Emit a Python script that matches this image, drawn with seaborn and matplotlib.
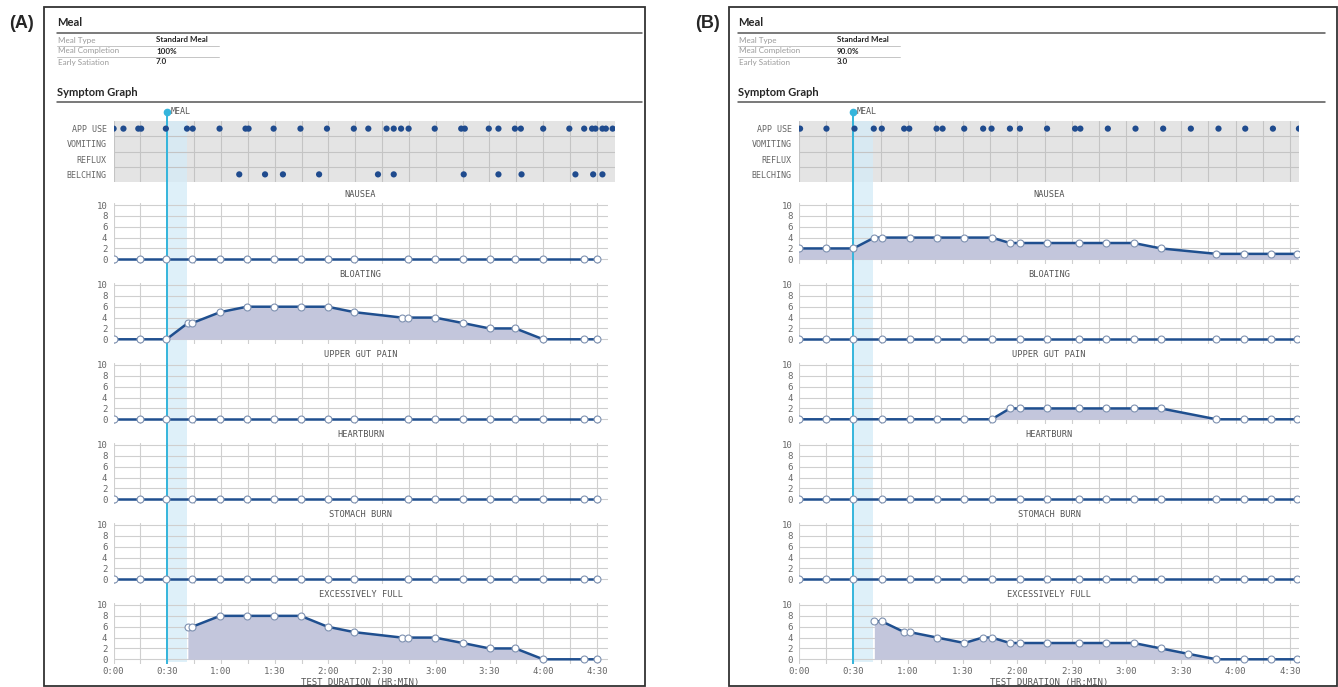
import numpy as np
import pandas as pd
import seaborn as sns
import matplotlib.pyplot as plt
from matplotlib.patches import Rectangle
from matplotlib.lines import Line2D

sns.set_theme(style="white")
MONO = "DejaVu Sans Mono"
HEAD = "Lato"
plt.rcParams['font.family'] = [MONO, 'DejaVu Sans']

W, H = 1338, 687
nan = np.nan

symptoms = ["NAUSEA", "BLOATING", "UPPER GUT PAIN", "HEARTBURN", "STOMACH BURN", "EXCESSIVELY FULL"]
event_rows = ["APP USE", "VOMITING", "REFLUX", "BELCHING"]
tick_minutes = [0, 30, 60, 90, 120, 150, 180, 210, 240, 270]
tick_labels = ["0:00", "0:30", "1:00", "1:30", "2:00", "2:30", "3:00", "3:30", "4:00", "4:30"]
meal_rows = ["Meal Type", "Meal Completion", "Early Satiation"]

# ---- panel A ----
a_meal_info = ["Standard Meal", "100%", "7.0"]
a_meal_time, a_meal_end = 30, 41
a_t = [0, 15, 29.5, 41.5, 44, 59.5, 74.5, 89.5, 104.5, 119.5, 134.5, 161, 164.5, 179.5, 195, 210, 224.5, 240, 263, 270]
a_nausea = [0, 0, 0, nan, 0, 0, 0, 0, 0, 0, 0, nan, 0, 0, 0, 0, 0, 0, 0, 0]
a_bloating = [0, 0, 0, 3, 3, 5, 6, 6, 6, 6, 5, 4, 4, 4, 3, 2, 2, 0, 0, 0]
a_upper_gut = [0, 0, 0, nan, 0, 0, 0, 0, 0, 0, 0, nan, 0, 0, 0, 0, 0, 0, 0, 0]
a_heartburn = [0, 0, 0, nan, 0, 0, 0, 0, 0, 0, 0, nan, 0, 0, 0, 0, 0, 0, 0, 0]
a_stomach = [0, 0, 0, nan, 0, 0, 0, 0, 0, 0, 0, nan, 0, 0, 0, 0, 0, 0, 0, 0]
a_full = [nan, nan, nan, 6, 6, 8, 8, 8, 8, 6, 5, 4, 4, 4, 3, 2, 2, 0, 0, 0]
a_app_use = [0, 5.5, 13.8, 15.4, 29.2, 41, 44.2, 59.2, 73.7, 75.4, 89.4, 104.4, 119.2, 134.2, 142.3,
             152.5, 156.5, 160.6, 164.8, 179.4, 194.2, 196.2, 209.6, 215, 224.2, 227.5, 240, 254.6,
             262.9, 267.3, 269.2, 273.1, 275, 278.8]
a_belching = [70.2, 84.6, 94.6, 114.8, 147.7, 156.5, 195.6, 215, 227.9, 258, 267.9, 273.1]

# ---- panel B ----
b_meal_info = ["Standard Meal", "90.0%", "3.0"]
b_meal_time, b_meal_end = 30, 41
b_t = [0, 15, 30, 41.5, 45.5, 58, 61, 76, 91, 101, 106, 116, 121.5, 136.5, 154, 169, 184, 199, 214,
       229.5, 244.5, 259.5, 274]
b_nausea = [2, 2, 2, 4, 4, nan, 4, 4, 4, nan, 4, 3, 3, 3, 3, 3, 3, 2, nan, 1, 1, 1, 1]
b_bloating = [0, 0, 0, nan, 0, nan, 0, 0, 0, nan, 0, nan, 0, 0, 0, 0, 0, 0, nan, 0, 0, 0, 0]
b_upper_gut = [0, 0, 0, nan, 0, nan, 0, 0, 0, nan, 0, 2, 2, 2, 2, 2, 2, 2, nan, 0, 0, 0, 0]
b_heartburn = [0, 0, 0, nan, 0, nan, 0, 0, 0, nan, 0, nan, 0, 0, 0, 0, 0, 0, nan, 0, 0, 0, 0]
b_stomach = [0, 0, 0, nan, 0, nan, 0, 0, 0, nan, 0, nan, 0, 0, 0, 0, 0, 0, nan, 0, 0, 0, 0]
b_full = [nan, nan, nan, 7, 7, 5, 5, 4, 3, 4, 4, 3, 3, 3, 3, 3, 3, 2, 1, 0, 0, 0, 0]
b_app_use = [0.7, 15.2, 30.6, 41.2, 45.6, 57.9, 60.7, 75.7, 79, 90.9, 101.3, 105.9, 116, 121.5, 136.4,
             151.8, 154.7, 169.8, 185, 200.2, 215.4, 230.6, 245.3, 260.5, 274.8]
b_belching = []

LINE = "#1f4f8f"
FILL = "#c3c6dc"
EDGE = "#7d90b0"
GRID = "#cfcfcf"
DOT = "#1f4b8e"
CYAN = "#35b5dc"
SHADE = "#d4ebf7"
GRAYBG = "#e4e4e4"
TXT = "#666666"


def fx(px):
    return px / W


def fy(px):
    return 1 - px / H


def draw_panel(fig, letter, frame, left, x0, ppm, xmax, xmax_ev, info, meal_t, meal_end,
               times, series, app_use, belching):
    fl, fr = frame
    fig.add_artist(Rectangle((fx(fl), fy(686)), (fr - fl) / W, 679 / H, transform=fig.transFigure,
                             fill=False, ec="#333333", lw=1.3))
    fig.text(fx(fl - 22), fy(24), letter, fontsize=13, fontweight="bold", family="Liberation Sans",
             ha="center", va="center")
    rule_r = fr - 3 if fr < 1300 else 1325
    # header
    fig.text(fx(left), fy(23), "Meal", fontsize=8, fontweight="bold", family=HEAD, va="center")
    fig.add_artist(Line2D([fx(left), fx(rule_r)], [fy(33), fy(33)], color="#555555", lw=1.1))
    for k, (lab, val) in enumerate(zip(meal_rows, info)):
        yy = 40 + 11 * k
        fig.text(fx(left + 1), fy(yy), lab, fontsize=5.8, color="#9a9a9a", family=HEAD, va="center")
        fig.text(fx(left + 99), fy(yy), val, fontsize=5.8, fontweight="bold", family=HEAD, va="center")
        if k < 2:
            fig.add_artist(Line2D([fx(left), fx(left + 162)], [fy(yy + 6), fy(yy + 6)],
                                  color="#bbbbbb", lw=0.6))
    fig.text(fx(left), fy(92), "Symptom Graph", fontsize=8, fontweight="bold", family=HEAD, va="center")
    fig.add_artist(Line2D([fx(left), fx(rule_r)], [fy(102), fy(102)], color="#555555", lw=1.1))

    # overlay: gray event band, meal shade, meal line
    ov = fig.add_axes([fx(x0), fy(662), ppm * xmax_ev / W, 550 / H])
    ov.set_xlim(0, xmax_ev)
    ov.set_ylim(662, 112)
    ov.axis("off")
    ov.set_zorder(0)
    ov.axhspan(182, 121, color=GRAYBG, lw=0, zorder=0)
    ov.fill_betweenx([121, 662], meal_t, meal_end, color=SHADE, alpha=0.75, lw=0, zorder=1)
    ov.plot([meal_t, meal_t], [112, 662], color=CYAN, lw=1.4, zorder=2)
    ov.plot([meal_t], [112], "o", ms=4.5, color=CYAN, clip_on=False, zorder=3)
    ov.text(meal_t + 3 / ppm, 112, "MEAL", fontsize=6, color="#555555", va="center")

    # event rows
    ev = fig.add_axes([fx(x0), fy(182), ppm * xmax_ev / W, 61 / H])
    ev.set_zorder(1)
    ev.set_facecolor("none")
    ev.set_xlim(0, xmax_ev)
    ev.set_ylim(3.5, -0.5)
    ev.set_xticks(np.arange(0, xmax_ev, 15))
    ev.set_xticklabels([])
    ev.set_yticks(range(4))
    ev.set_yticklabels(event_rows)
    ev.set_yticks([0.5, 1.5, 2.5], minor=True)
    ev.grid(True, axis="x", which="major", color="#c4c4c4", lw=0.8)
    ev.grid(True, axis="y", which="minor", color="#c4c4c4", lw=0.8)
    ev.set_axisbelow(True)
    ev.axvline(meal_t, color=CYAN, lw=1.4, zorder=1.5)
    ev.tick_params(axis="both", which="both", length=0)
    ev.tick_params(axis="y", pad=5, labelsize=6, labelcolor=TXT)
    for s in ev.spines.values():
        s.set_visible(False)
    ev_df = pd.DataFrame({"t": list(app_use) + list(belching),
                          "row": [0] * len(app_use) + [3] * len(belching)})
    sns.scatterplot(data=ev_df, x="t", y="row", ax=ev, color=DOT, s=20, edgecolor="none", zorder=3)
    ev.set_xlabel("")
    ev.set_ylabel("")

    # symptom plots
    for i, (name, vals) in enumerate(zip(symptoms, series)):
        top = 205 + 80 * i - 0.4 * 5.43
        hpx = 11.2 * 5.43
        ax = fig.add_axes([fx(x0), fy(top + hpx), ppm * xmax / W, hpx / H])
        ax.set_zorder(1)
        ax.set_facecolor("none")
        d = pd.DataFrame({"t": times, "v": vals}).dropna()
        ax.fill_between(d["t"], 0, d["v"], color=FILL, lw=0, zorder=2)
        ax.axvline(meal_t, color=CYAN, lw=1.4, zorder=2.5)
        sns.lineplot(data=d, x="t", y="v", ax=ax, color=LINE, lw=1.8, marker="o", markersize=5,
                     markerfacecolor="white", markeredgecolor=EDGE, markeredgewidth=0.8,
                     estimator=None, zorder=3)
        ax.set_xlim(0, xmax)
        ax.set_ylim(-0.8, 10.4)
        ax.set_yticks([0, 2, 4, 6, 8, 10])
        ax.set_xticks(tick_minutes)
        ax.set_xticks(np.arange(15, xmax, 30), minor=True)
        ax.grid(True, which="both", color=GRID, lw=0.8)
        ax.set_axisbelow(True)
        for s in ax.spines.values():
            s.set_visible(False)
        ax.tick_params(axis="y", length=3, width=0.8, color=GRID, pad=1.5, labelsize=6.5, labelcolor=TXT)
        ax.tick_params(axis="x", which="both", length=0, labelsize=6.5, labelcolor=TXT, pad=2.5)
        ax.set_ylabel("")
        if i == len(symptoms) - 1:
            ax.set_xticklabels(tick_labels)
            ax.set_xlabel("TEST DURATION (HR:MIN)", fontsize=6.5, color="#555555", labelpad=1)
        else:
            ax.set_xticklabels([])
            ax.set_xlabel("")
        ax.annotate(name, xy=(0.5, 1), xycoords="axes fraction", xytext=(0, 5.8),
                    textcoords="offset points", ha="center", va="center", fontsize=6.2, color="#555555")


fig = plt.figure(figsize=(W / 100, H / 100), dpi=100)
fig.patch.set_facecolor("white")

draw_panel(fig, "(A)", (44, 645), 57, 113.6, 1.79, 276, 280, a_meal_info, a_meal_time, a_meal_end,
           a_t, [a_nausea, a_bloating, a_upper_gut, a_heartburn, a_stomach, a_full], a_app_use, a_belching)
draw_panel(fig, "(B)", (729, 1337), 738, 798.8, 1.82, 275, 275, b_meal_info, b_meal_time, b_meal_end,
           b_t, [b_nausea, b_bloating, b_upper_gut, b_heartburn, b_stomach, b_full], b_app_use, b_belching)

fig.savefig("out.png", dpi=100)
